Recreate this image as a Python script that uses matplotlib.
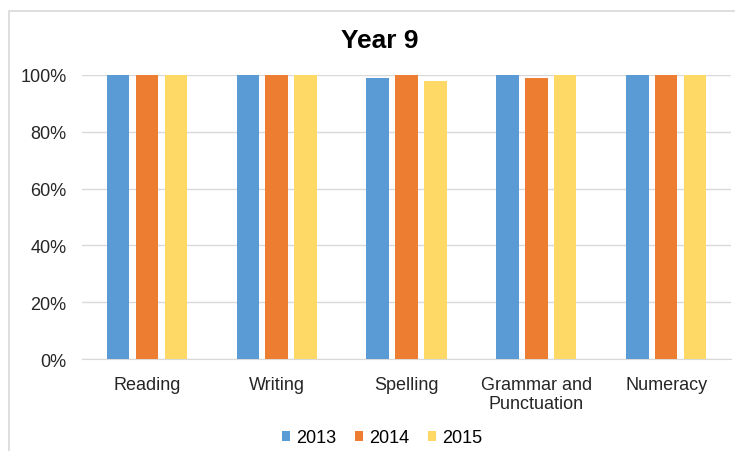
import numpy as np
import matplotlib.pyplot as plt
from matplotlib.patches import Rectangle
from matplotlib.ticker import PercentFormatter

plt.rcParams['font.family'] = ['Liberation Sans', 'DejaVu Sans']

categories = ['Reading', 'Writing', 'Spelling', 'Grammar and\nPunctuation', 'Numeracy']
years = ['2013', '2014', '2015']
y2013 = [1.00, 1.00, 0.99, 1.00, 1.00]
y2014 = [1.00, 1.00, 1.00, 0.99, 1.00]
y2015 = [1.00, 1.00, 0.98, 1.00, 1.00]
colors = ['#5B9BD5', '#ED7D31', '#FFD966']

fig = plt.figure(figsize=(7.35, 4.52), dpi=100)
ax = fig.add_axes([0.1116, 0.2035, 0.883, 0.6284])

# outer chart border
fig.patches.append(Rectangle((9/735, -0.1), 1.2, 1 - 12/452 + 0.1,
                             transform=fig.transFigure, fill=False,
                             edgecolor='#D9D9D9', linewidth=1.2))

x = np.arange(len(categories))
w = 0.173
step = 0.222
for i, (vals, yr) in enumerate(zip([y2013, y2014, y2015], years)):
    ax.bar(x + (i - 1) * step, vals, w, color=colors[i], label=yr, zorder=3)

ax.set_xlim(-0.5, len(categories) - 0.5)
ax.set_ylim(0, 1)
ax.set_yticks(np.arange(0, 1.01, 0.2))
ax.yaxis.set_major_formatter(PercentFormatter(1.0, decimals=0))
ax.set_xticks(x)
ax.set_xticklabels(categories, fontsize=13, color='#262626', linespacing=1.15)
ax.tick_params(axis='y', labelsize=13, labelcolor='#262626', length=0, pad=11)
ax.tick_params(axis='x', length=0, pad=12)
ax.grid(axis='y', color='#D9D9D9', linewidth=1, zorder=0)
for s in ['top', 'right', 'left']:
    ax.spines[s].set_visible(False)
ax.spines['bottom'].set_color('#D9D9D9')

fig.text(0.516, 1 - 41/452, 'Year 9', ha='center', va='center',
         fontsize=19, fontweight='bold', color='#000000')

fig.legend(loc='center', bbox_to_anchor=(382/735, 1 - 439/452), ncol=3,
           frameon=False, fontsize=13, handlelength=0.45, handleheight=0.45,
           handletextpad=0.33, columnspacing=1.05, borderpad=0)

fig.savefig('out.png', dpi=100)
